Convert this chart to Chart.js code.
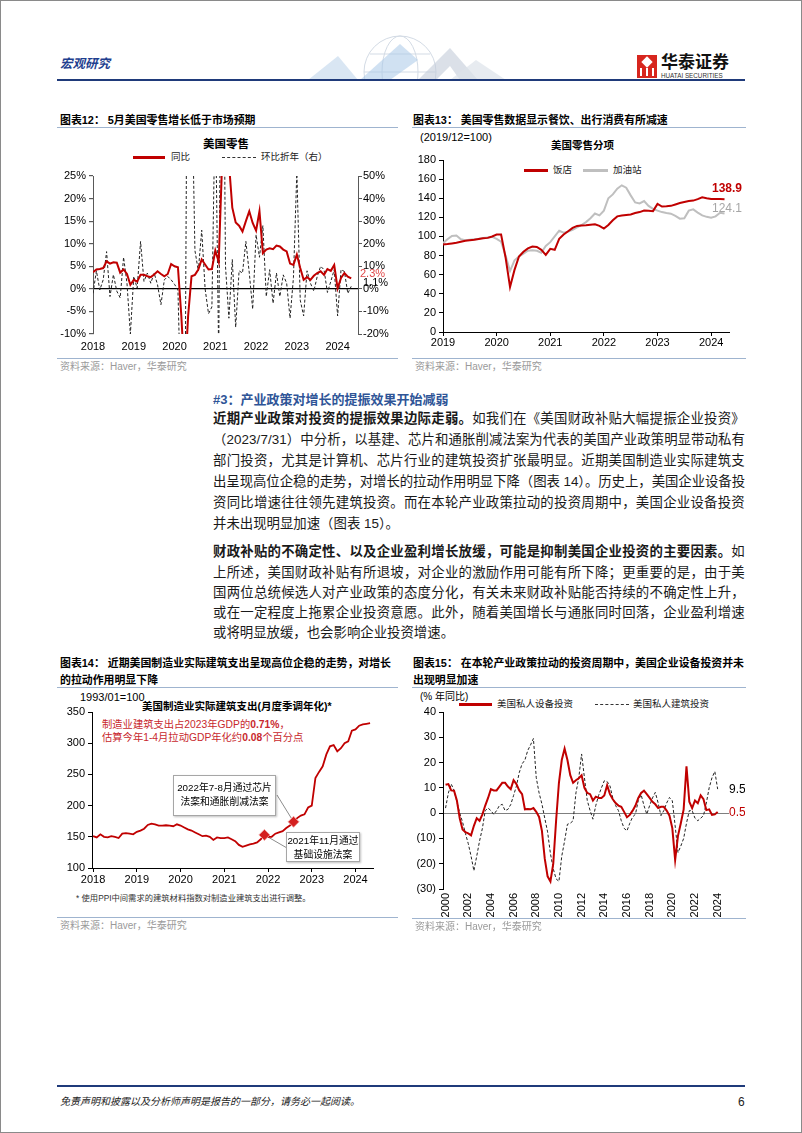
<!DOCTYPE html>
<html lang="zh-CN">
<head>
<meta charset="utf-8">
<title>宏观研究</title>
<script src="https://cdn.jsdelivr.net/npm/chart.js@4.4.1/dist/chart.umd.min.js"></script>
<style>
  html, body { margin: 0; padding: 0; background: #fff; }
  body { position: relative; width: 802px; height: 1133px; overflow: hidden;
         font-family: 'Liberation Sans', 'Noto Sans CJK SC', sans-serif; color: #000; }
  .a { position: absolute; white-space: nowrap; line-height: 1; }
  canvas { position: absolute; }
  .rule { position: absolute; height: 0; border-top: 1.5px solid #9fb4cf; }
  .ttl { font-size: 10.9px; font-weight: bold; color: #000; }
  .src { font-size: 10px; color: #9a9a9a; }
  .leg { font-size: 9.5px; color: #222; }
  .ln { position: absolute; left: 213px; height: 20px; line-height: 20px; font-size: 13.4px; white-space: nowrap; color: #1a1a1a; }
  .box { position: absolute; background: #fff; border: 1px solid #a6a6a6; box-shadow: 1px 1px 2px rgba(0,0,0,0.25);
         font-size: 9.8px; text-align: center; line-height: 14px; color: #000; white-space: nowrap; }
</style>
</head>
<body>
<div style="position:absolute;left:0;top:0;width:800px;height:1131px;border:1px solid #8a8a8a;"></div>

<!-- header -->
<div class="a" style="left:60px;top:58px;font-size:12.5px;font-weight:bold;font-style:italic;color:#1f3f8f;">宏观研究</div>
<svg class="a" style="left:300px;top:30px" width="220" height="50">
  <g fill="none" stroke="#d3dbe5" stroke-width="1">
    <circle cx="100" cy="42" r="36"/>
    <ellipse cx="100" cy="42" rx="18" ry="36"/>
    <path d="M64 42 H136 M70 24 H130 M70 60 H130"/>
  </g>
  <polygon points="8,50 38,26 58,50" fill="#cfe0f0" opacity="0.8"/>
  <polygon points="60,50 100,14 118,30 90,50" fill="#a9c8e8" opacity="0.55"/>
  <polygon points="118,50 150,18 178,50 160,50 150,36 136,50" fill="#c3ccd8" opacity="0.6"/>
  <polygon points="150,50 176,30 206,50" fill="#dde3ea" opacity="0.7"/>
</svg>
<div class="a" style="left:637px;top:55px;width:20px;height:23px;background:#d7261e;"></div>
<div class="a" style="left:643px;top:58px;width:8px;height:8px;background:#fff;transform:rotate(45deg);"></div>
<div class="a" style="left:640px;top:68px;width:2px;height:8px;background:#fff;"></div>
<div class="a" style="left:646px;top:68px;width:2px;height:8px;background:#fff;"></div>
<div class="a" style="left:652px;top:68px;width:2px;height:8px;background:#fff;"></div>
<div class="a" style="left:661px;top:54px;font-size:17px;font-weight:bold;color:#111;">华泰证券</div>
<div class="a" style="left:661px;top:73px;font-size:6.3px;color:#333;">HUATAI SECURITIES</div>
<div class="a" style="left:57px;top:79px;width:688px;height:0;border-top:2px solid #1f3a7a;"></div>

<!-- chart 12 -->
<div class="a ttl" style="left:60px;top:115px;">图表12： 5月美国零售增长低于市场预期</div>
<div class="rule" style="left:57px;top:127px;width:341px;"></div>
<div class="a" style="left:203px;top:139px;font-size:11.5px;font-weight:bold;">美国零售</div>
<div class="a" style="left:133px;top:156px;width:32px;height:2.5px;background:#c00000;"></div>
<div class="a leg" style="left:171px;top:152px;">同比</div>
<div class="a" style="left:222px;top:157px;width:34px;height:0;border-top:1px dashed #333;"></div>
<div class="a leg" style="left:261px;top:152px;">环比折年（右）</div>
<canvas id="c12" width="360" height="190" style="left:40px;top:165px;"></canvas>
<div class="rule" style="left:57px;top:358px;width:341px;"></div>
<div class="a src" style="left:60px;top:362px;">资料来源：Haver，华泰研究</div>

<!-- chart 13 -->
<div class="a ttl" style="left:413px;top:115px;">图表13： 美国零售数据显示餐饮、出行消费有所减速</div>
<div class="rule" style="left:412px;top:127px;width:334px;"></div>
<div class="a" style="left:420px;top:132px;font-size:11px;">(2019/12=100)</div>
<div class="a" style="left:551px;top:140px;font-size:10.5px;font-weight:bold;">美国零售分项</div>
<div class="a" style="left:524px;top:169px;width:24px;height:2.5px;background:#c00000;"></div>
<div class="a leg" style="left:553px;top:165px;">饭店</div>
<div class="a" style="left:583px;top:169px;width:25px;height:2.5px;background:#bfbfbf;"></div>
<div class="a leg" style="left:613px;top:165px;">加油站</div>
<canvas id="c13" width="345" height="200" style="left:400px;top:150px;"></canvas>
<div class="rule" style="left:412px;top:358px;width:334px;"></div>
<div class="a src" style="left:415px;top:362px;">资料来源：Haver，华泰研究</div>

<!-- text section -->
<div class="a" style="left:213px;top:393px;font-size:13px;font-weight:bold;color:#2f5597;">#3：产业政策对增长的提振效果开始减弱</div>
<div class="ln j" style="top:409px;"><span><b>近期产业政策对投资的提振效果边际走弱。</b>如我们在《美国财政补贴大幅提振企业投资》</span></div>
<div class="ln j" style="top:430px;"><span>（2023/7/31）中分析，以基建、芯片和通胀削减法案为代表的美国产业政策明显带动私有</span></div>
<div class="ln j" style="top:451px;"><span>部门投资，尤其是计算机、芯片行业的建筑投资扩张最明显。近期美国制造业实际建筑支</span></div>
<div class="ln j" style="top:472px;"><span>出呈现高位企稳的走势，对增长的拉动作用明显下降（图表 14）。历史上，美国企业设备投</span></div>
<div class="ln j" style="top:493px;"><span>资同比增速往往领先建筑投资。而在本轮产业政策拉动的投资周期中，美国企业设备投资</span></div>
<div class="ln" style="top:514px;"><span>并未出现明显加速（图表 15）。</span></div>
<div class="ln j" style="top:542px;"><span><b>财政补贴的不确定性、以及企业盈利增长放缓，可能是抑制美国企业投资的主要因素。</b>如</span></div>
<div class="ln j" style="top:563px;"><span>上所述，美国财政补贴有所退坡，对企业的激励作用可能有所下降；更重要的是，由于美</span></div>
<div class="ln j" style="top:583px;"><span>国两位总统候选人对产业政策的态度分化，有关未来财政补贴能否持续的不确定性上升，</span></div>
<div class="ln j" style="top:603px;"><span>或在一定程度上拖累企业投资意愿。此外，随着美国增长与通胀同时回落，企业盈利增速</span></div>
<div class="ln" style="top:623px;"><span>或将明显放缓，也会影响企业投资增速。</span></div>

<!-- chart 14 -->
<div class="a ttl" style="left:60px;top:658px;">图表14： 近期美国制造业实际建筑支出呈现高位企稳的走势，对增长</div>
<div class="a ttl" style="left:60px;top:675px;">的拉动作用明显下降</div>
<div class="rule" style="left:57px;top:687px;width:341px;"></div>
<div class="a" style="left:80px;top:692px;font-size:11px;">1993/01=100</div>
<div class="a" style="left:142px;top:701px;font-size:10.5px;font-weight:bold;">美国制造业实际建筑支出(月度季调年化)*</div>
<div class="a" style="left:102px;top:720px;font-size:10.3px;color:#c8282d;">制造业建筑支出占2023年GDP的<b>0.71%</b>，</div>
<div class="a" style="left:102px;top:733px;font-size:10.3px;color:#c8282d;">估算今年1-4月拉动GDP年化约<b>0.08</b>个百分点</div>
<canvas id="c14" width="345" height="190" style="left:40px;top:700px;"></canvas>
<div class="box" style="left:173px;top:775px;width:103px;height:41px;padding-top:5px;box-sizing:border-box;">2022年7-8月通过芯片<br>法案和通胀削减法案</div>
<div class="box" style="left:286px;top:832px;width:74px;height:30px;padding-top:1px;box-sizing:border-box;">2021年11月通过<br>基础设施法案</div>
<div class="a" style="left:76px;top:894px;font-size:8.3px;color:#333;">* 使用PPI中间需求的建筑材料指数对制造业建筑支出进行调整。</div>
<div class="rule" style="left:57px;top:917px;width:341px;"></div>
<div class="a src" style="left:60px;top:921px;">资料来源：Haver，华泰研究</div>

<!-- chart 15 -->
<div class="a ttl" style="left:413px;top:658px;">图表15： 在本轮产业政策拉动的投资周期中，美国企业设备投资并未</div>
<div class="a ttl" style="left:413px;top:675px;">出现明显加速</div>
<div class="rule" style="left:412px;top:687px;width:334px;"></div>
<div class="a" style="left:420px;top:692px;font-size:10px;">(% 年同比)</div>
<div class="a" style="left:459px;top:703px;width:33px;height:2.5px;background:#c00000;"></div>
<div class="a leg" style="left:497px;top:699px;">美国私人设备投资</div>
<div class="a" style="left:595px;top:704px;width:34px;height:0;border-top:1px dashed #333;"></div>
<div class="a leg" style="left:633px;top:699px;">美国私人建筑投资</div>
<canvas id="c15" width="345" height="230" style="left:400px;top:700px;"></canvas>
<div class="rule" style="left:412px;top:918px;width:334px;"></div>
<div class="a src" style="left:415px;top:922px;">资料来源：Haver，华泰研究</div>

<!-- footer -->
<div class="a" style="left:57px;top:1085px;width:688px;height:0;border-top:2px solid #1f3a7a;"></div>
<div class="a" style="left:60px;top:1097px;font-size:10px;font-style:italic;color:#222;">免责声明和披露以及分析师声明是报告的一部分，请务必一起阅读。</div>
<div class="a" style="left:738px;top:1096px;font-size:12px;color:#222;">6</div>

<script>
// ---------- 图表12: 美国零售 (2018-01 .. 2024-05) ----------
const retailYears = ['2018', '2019', '2020', '2021', '2022', '2023', '2024'];
const retailYoY = [3.7, 4.3, 4.4, 4.6, 6.1, 5.6, 5.9, 5.8, 3.6, 4.3, 3.3, 0.9,
  2.0, 1.6, 3.1, 3.1, 2.8, 2.6, 3.2, 3.9, 3.3, 2.8, 3.3, 5.5,
  5.0, 4.8, -6.0, -20.0, -6.0, 2.8, 3.1, 4.3, 6.5, 5.4, 4.3, 4.4,
  8.5, 6.0, 28.0, 51.0, 28.0, 18.0, 14.7, 14.0, 12.7, 15.0, 17.2, 14.6,
  12.9, 17.2, 7.9, 8.7, 9.0, 8.8, 9.6, 9.4, 8.7, 8.3, 5.6, 5.3,
  7.6, 4.6, 2.0, 2.6, 2.0, 2.9, 3.5, 3.9, 3.1, 4.4, 4.0, 5.3,
  0.1, 2.4, 3.5, 2.7, 2.3];
const retailMoMAnn = [-2, 8, -0.5, 4, 16.5, -3.4, 6.3, -1, -4, 14, 2.5, -20,
  5.5, 0.3, 21, 3.3, 7, 2.5, 7, 1.8, -7, 4, 5.5, 4,
  2, -0.5, -60, -85, 200, 100, 17, 8, 26, 0, -11, -8,
  86, -30, 200, 10, -13, 13, -17, 8, 7, 21, 7, -9,
  24, 14, 28, -3.4, 8.5, -6.4, 7, -3.4, 6.2, 2.5, -13, 5,
  52, -5, -12, 8, 2.5, -1, 5.5, 10, 8.5, -1.6, 3.3, 8.5,
  -12, 8.5, 7.7, -2, 1.1];

// ---------- 图表13: 美国零售分项 (2019-01 .. 2024-04, 2019/12=100) ----------
const subYears = ['2019', '2020', '2021', '2022', '2023', '2024'];
const restaurants = [91.5, 92, 92.7, 93.5, 94.5, 95.5, 96, 96.5, 97.3, 98, 98.5, 100,
  102, 102, 78, 47, 65, 79, 84, 87.5, 89.5, 89, 86, 80.7,
  87, 86, 97.5, 102, 105.5, 109, 111, 111.5, 111.6, 112.2, 112.7, 111,
  108.2, 112, 117, 121, 122, 122.5, 123, 124.5, 125.5, 127.2, 127, 126.5,
  134, 131.3, 131.5, 132, 133.5, 135, 136, 137, 137.5, 139, 141, 140,
  139.2, 139.2, 139.2, 138.9];
const gasStations = [93, 97, 100.5, 101, 97, 96, 96.5, 97, 97.5, 98.5, 99, 99.5,
  97.5, 94.5, 80, 63.8, 75, 79, 82, 85, 85.5, 85, 83, 90,
  94, 100, 106, 104, 105, 107, 109.5, 112, 115, 119, 124, 122,
  127, 140, 144, 150, 153.5, 151, 143, 135.6, 134.5, 137, 132, 128.8,
  127, 125.5, 124.5, 123.8, 121.5, 118.6, 119, 127, 128.3, 125, 122, 120.5,
  119.7, 121, 124.8, 124.1];

// ---------- 图表14: 美国制造业实际建筑支出 (2018-01 .. 2024-05) ----------
const mfgYears = ['2018', '2019', '2020', '2021', '2022', '2023', '2024'];
const mfgConstruction = [151, 149, 154, 150, 149, 151, 150, 148, 155, 156, 155, 154,
  158, 160, 163, 169, 171, 170, 168, 168, 168.5, 168, 167, 170,
  168, 165, 162, 160, 157, 154, 151, 152, 150, 145, 149, 148,
  148, 149, 146, 143, 137, 134, 136, 138, 139, 141, 146, 153,
  150, 150, 155, 157, 159, 164, 168, 174, 180, 184, 186, 197,
  200, 244, 254, 263, 282, 295, 297, 287, 292, 300, 303, 320,
  322, 328, 330, 331, 332];
const mfgMarkIdx = [47, 55];

// ---------- 图表15: 美国私人设备/建筑投资同比 (2000Q1 .. 2024Q1) ----------
const invYears = ['2000', '2002', '2004', '2006', '2008', '2010', '2012', '2014', '2016', '2018', '2020', '2022', '2024'];
const equipInv = [11.2, 11.5, 9, 8.9, 5, -2, -6.5, -7.5, -8, -8.8,
  -5, -2, -3, -0.5, 3, 6, 9.5, 9, 9, 10.5,
  12, 12, 10.5, 9.5, 13, 11.5, 9, 7.5, 1.5, 1.6,
  1.5, 2, 0.5, -1.5, -7, -18, -25, -27, -20, -3,
  12, 21, 25.5, 21, 15, 12, 13, 13.8, 15, 10,
  8, 7.5, 5, 6.5, 6, 6, 7, 11, 7.5, 5.5,
  4, 3, 2.5, 0.5, -1.6, -0.7, 1, 3, 6, 8,
  8.9, 7.5, 6, 4.5, 3.5, 2, 2.5, 2.5, 1, -1,
  -5.9, -18.5, -9, -4, 1.5, 18.5, 4.5, 2, 5, 3.9,
  7, 5.5, 1.2, 1.5, -0.7, -0.5, 0.5];
const structInv = [2, 8, 11.5, 9, 4.5, 0, -3.5, -8, -12, -17,
  -22.8, -17, -11, -6, 1, 2, 1, -0.5, 1, 3,
  3.5, 1, 1.5, 3.4, 7, 10.7, 16, 19.5, 21, 24.8,
  27, 29.5, 14, 8, 3.6, -2, -7.4, -16, -22, -26,
  -27, -17, -11, -4.4, -4, -3, 8, 14, 23.4, 14,
  5, 1, -2.4, 3, 7, 10, 12.8, 12.5, 10.8, 6,
  3, 1, -3, -6, -7, -4, -1.5, -0.4, 5, 7.3,
  3, -0.4, 3, 6, 8.2, 4, -1, 1, 4, 6.2,
  4.9, -5, -15.6, -13, -10, -4, 1, 1, -2, -3,
  -2, -1, 4, 10, 14, 16.5, 9.5];

const FONT = "'Liberation Sans', 'Noto Sans CJK SC', sans-serif";
const RED = '#c00000';
Chart.defaults.font.family = FONT;
Chart.defaults.font.size = 11;
Chart.defaults.color = '#000';
Chart.defaults.animation = false;
Chart.defaults.responsive = false;
Chart.defaults.plugins.legend.display = false;
Chart.defaults.plugins.tooltip.enabled = false;
Chart.defaults.elements.point.radius = 0;
Chart.defaults.elements.line.tension = 0;

const pts = arr => arr.map((v, i) => ({ x: i, y: v }));
const yearTicks = (labels, step) => s => { s.ticks = labels.map((_, k) => ({ value: k * step })); };
const last = arr => arr[arr.length - 1];

// 图表12
new Chart(document.getElementById('c12'), {
  type: 'line',
  data: { datasets: [
    { data: pts(retailYoY), borderColor: RED, borderWidth: 2, yAxisID: 'y' },
    { data: pts(retailMoMAnn), borderColor: '#222', borderWidth: 1, borderDash: [3, 2], yAxisID: 'y2' }
  ] },
  options: {
    layout: { padding: { top: 11 } },
    scales: {
      x: { type: 'linear', min: 0, max: 78, afterBuildTicks: yearTicks(retailYears, 12),
           afterFit: s => { s.height = 21; },
           grid: { display: false, drawTicks: false }, border: { display: false },
           ticks: { padding: 6, maxRotation: 0, autoSkip: false, callback: v => retailYears[v / 12] } },
      y: { min: -10, max: 25, afterFit: s => { s.width = 53; },
           ticks: { stepSize: 5, padding: 3, callback: v => v + '%' },
           grid: { color: c => (c.tick && c.tick.value === 0) ? '#000' : 'rgba(0,0,0,0)', lineWidth: 1.2,
                   tickColor: '#595959', tickLength: 4 },
           border: { color: '#595959' } },
      y2: { position: 'right', min: -20, max: 50, afterFit: s => { s.width = 42; },
            ticks: { stepSize: 10, padding: 1, callback: v => v + '%' },
            grid: { drawOnChartArea: false, tickColor: '#595959', tickLength: 4 },
            border: { color: '#595959' } }
    }
  },
  plugins: [{
    id: 'end12',
    afterDatasetsDraw(chart) {
      const { ctx, chartArea, scales } = chart;
      const a = last(retailYoY), b = last(retailMoMAnn);
      ctx.save();
      ctx.font = '11px ' + FONT;
      ctx.textBaseline = 'middle';
      ctx.fillStyle = '#e04848';
      ctx.fillText(a.toFixed(1) + '%', chartArea.right + 2, scales.y.getPixelForValue(a) - 5);
      ctx.fillStyle = '#000';
      ctx.fillText(b.toFixed(1) + '%', chartArea.right + 5, scales.y2.getPixelForValue(b) - 3);
      ctx.restore();
    }
  }]
});

// 图表13
new Chart(document.getElementById('c13'), {
  type: 'line',
  data: { datasets: [
    { data: pts(restaurants), borderColor: RED, borderWidth: 2 },
    { data: pts(gasStations), borderColor: '#bfbfbf', borderWidth: 2 }
  ] },
  options: {
    layout: { padding: { top: 10, right: 16 } },
    scales: {
      x: { type: 'linear', min: 0, max: 64, afterBuildTicks: yearTicks(subYears, 12),
           afterFit: s => { s.height = 18; },
           grid: { drawOnChartArea: false, tickColor: '#000', tickLength: 4 }, border: { color: '#000' },
           ticks: { padding: 0, maxRotation: 0, autoSkip: false, callback: v => subYears[v / 12] } },
      y: { min: 0, max: 180, afterFit: s => { s.width = 43; },
           ticks: { stepSize: 20, padding: 3 },
           grid: { drawOnChartArea: false, tickColor: '#000', tickLength: 4 }, border: { color: '#000' } }
    }
  },
  plugins: [{
    id: 'end13',
    afterDatasetsDraw(chart) {
      const { ctx, scales } = chart;
      const r = last(restaurants), g = last(gasStations);
      ctx.save();
      ctx.textAlign = 'right';
      ctx.textBaseline = 'middle';
      ctx.font = 'bold 12px ' + FONT;
      ctx.fillStyle = RED;
      ctx.fillText(r.toFixed(1), chart.width - 3, scales.y.getPixelForValue(r) - 11);
      ctx.font = '12px ' + FONT;
      ctx.fillStyle = '#a6a6a6';
      ctx.fillText(g.toFixed(1), chart.width - 3, scales.y.getPixelForValue(g) - 5);
      ctx.restore();
    }
  }]
});

// 图表14
const mfgMarks = mfgConstruction.map((v, i) => mfgMarkIdx.includes(i) ? v : null);
new Chart(document.getElementById('c14'), {
  type: 'line',
  data: { datasets: [
    { data: pts(mfgMarks), showLine: false, pointStyle: 'rectRot', pointRadius: 5.5,
      pointBackgroundColor: '#d42020', pointBorderColor: '#f2a0a0', pointBorderWidth: 1 },
    { data: pts(mfgConstruction), borderColor: RED, borderWidth: 1.8 }
  ] },
  options: {
    layout: { padding: { top: 12, right: 12 } },
    scales: {
      x: { type: 'linear', min: -0.3, max: 76.8, afterBuildTicks: yearTicks(mfgYears, 12),
           afterFit: s => { s.height = 22; },
           grid: { drawOnChartArea: false, tickColor: '#000', tickLength: 4 }, border: { color: '#000' },
           ticks: { padding: 1, maxRotation: 0, autoSkip: false, callback: v => mfgYears[v / 12] } },
      y: { min: 100, max: 350, afterFit: s => { s.width = 52; },
           ticks: { stepSize: 50, padding: 3 },
           grid: { drawOnChartArea: false, tickColor: '#000', tickLength: 4 }, border: { color: '#000' } }
    }
  },
  plugins: [{
    id: 'leaders14',
    beforeDatasetsDraw(chart) {
      const { ctx } = chart;
      const pm = chart.getDatasetMeta(0).data;
      const p1 = pm[mfgMarkIdx[0]], p2 = pm[mfgMarkIdx[1]];
      ctx.save();
      ctx.strokeStyle = '#8c8c8c';
      ctx.lineWidth = 1;
      ctx.beginPath();
      ctx.moveTo(p2.x, p2.y); ctx.lineTo(237, 95);
      ctx.moveTo(p1.x, p1.y); ctx.lineTo(247, 148);
      ctx.stroke();
      ctx.restore();
    }
  }]
});

// 图表15
new Chart(document.getElementById('c15'), {
  type: 'line',
  data: { datasets: [
    { data: pts(equipInv), borderColor: RED, borderWidth: 2 },
    { data: pts(structInv), borderColor: '#222', borderWidth: 1, borderDash: [3, 2] }
  ] },
  options: {
    layout: { padding: { top: 12, right: 16 } },
    scales: {
      x: { type: 'linear', min: -0.9, max: 100, afterBuildTicks: yearTicks(invYears, 8),
           afterFit: s => { s.height = 41; },
           grid: { display: false, drawTicks: false }, border: { display: false },
           ticks: { padding: 4, minRotation: 90, maxRotation: 90, autoSkip: false, callback: v => invYears[v / 8] } },
      y: { min: -30, max: 40, afterFit: s => { s.width = 43; },
           ticks: { stepSize: 10, padding: 3, callback: v => v < 0 ? '(' + (-v) + ')' : String(v) },
           grid: { color: c => (c.tick && c.tick.value === 0) ? '#7f7f7f' : 'rgba(0,0,0,0)',
                   tickColor: '#000', tickLength: 4 },
           border: { color: '#000' } }
    }
  },
  plugins: [{
    id: 'end15',
    afterDatasetsDraw(chart) {
      const { ctx, chartArea, scales } = chart;
      const e = last(equipInv), s = last(structInv);
      ctx.save();
      ctx.font = '12px ' + FONT;
      ctx.textBaseline = 'middle';
      ctx.fillStyle = '#000';
      ctx.fillText(s.toFixed(1), chartArea.right + 0, scales.y.getPixelForValue(s) + 1);
      ctx.fillStyle = RED;
      ctx.fillText(e.toFixed(1), chartArea.right + 0, scales.y.getPixelForValue(e) + 1);
      ctx.restore();
    }
  }]
});

// spread full text lines across the column width
const COL_W = 532;
document.querySelectorAll('.ln.j').forEach(el => {
  const span = el.firstElementChild;
  const w = span.getBoundingClientRect().width;
  const n = span.textContent.length;
  span.style.letterSpacing = ((COL_W - w) / n).toFixed(3) + 'px';
});
</script>
</body>
</html>
